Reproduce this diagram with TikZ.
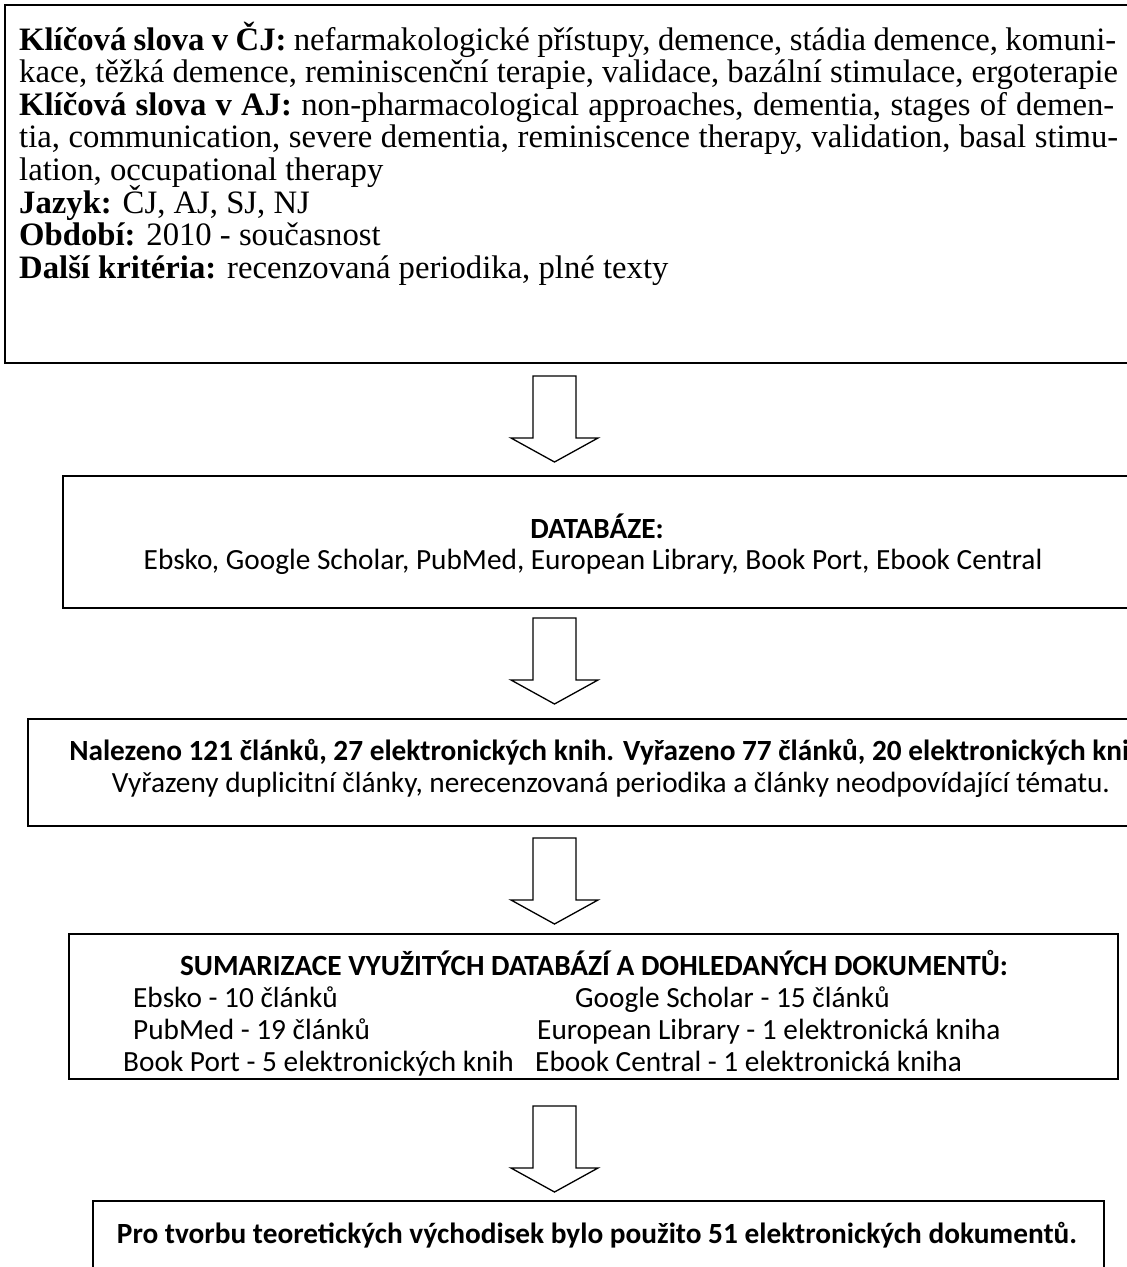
\documentclass[tikz,border=0pt]{standalone}
\usepackage{fontspec}
\setmainfont{Liberation Serif}
\newfontfamily\calfont{Carlito}
\begin{document}
\begin{tikzpicture}[x=1pt,y=-1pt,
  box/.style={draw=black, line width=2pt, anchor=north west, inner sep=0pt, fill=none},
  blk/.style={draw=black, line width=1.3pt, fill=white, line join=miter},
  tl/.style={anchor=base west, inner sep=0pt, font=\fontsize{32.7}{38}\selectfont},
  cl/.style={anchor=base, inner sep=0pt, font=\calfont\fontsize{29.3}{35}\selectfont},
  cw/.style={anchor=base west, inner sep=0pt, font=\calfont\fontsize{29.3}{35}\selectfont},
  darrow/.pic={\draw[blk] (-21.5,0) -- (21.5,0) -- (21.5,62) -- (43.5,62) -- (0,86) -- (-43.5,62) -- (-21.5,62) -- cycle;}
]
\path[use as bounding box] (0,0) rectangle (1127,1267);
\clip (0,0) rectangle (1127,1267);
\fill[white] (0,0) rectangle (1127,1267);

% box 1
\node[box, minimum width=1140pt, minimum height=358pt] (b1) at (4,4) {};
\node[tl] (l1) at (19,50) {\makebox[1097pt][s]{\textbf{Klíčová slova v ČJ:} nefarmakologické přístupy, demence, stádia demence, komuni-}};
\node[tl] (l2) at (19,82.6) {kace, těžká demence, reminiscenční terapie, validace, bazální stimulace, ergoterapie};
\node[tl] (l3) at (19,115.2) {\makebox[1095pt][s]{\textbf{Klíčová slova v AJ:} non-pharmacological approaches, dementia, stages of demen-}};
\node[tl] (l4) at (19,147.8) {\makebox[1099pt][s]{tia, communication, severe dementia, reminiscence therapy, validation, basal stimu-}};
\node[tl] (l5) at (19,180.4) {lation, occupational therapy};
\node[tl] (l6) at (19,213) {\textbf{Jazyk:} ČJ, AJ, SJ, NJ};
\node[tl] (l7) at (19,245.6) {\textbf{Období:} 2010 - současnost};
\node[tl] (l8) at (19,278.2) {\textbf{Další kritéria:} recenzovaná periodika, plné texty};

\pic (a1) at (554.5,376) {darrow};

% box 2
\node[box, minimum width=1080pt, minimum height=132pt] (b2) at (62,475) {};
\node[cl] (t2a) at (597,538) {\textbf{DATABÁZE:}};
\node[cl] (t2b) at (593,569) {Ebsko, Google Scholar, PubMed, European Library, Book Port, Ebook Central};

\pic (a2) at (554.5,618) {darrow};

% box 3
\node[box, minimum width=1180pt, minimum height=107pt] (b3) at (27,718) {};
\node[cl] (t3a) at (611,760) {\textbf{Nalezeno 121 článků, 27 elektronických knih. Vyřazeno 77 článků, 20 elektronických knih.}};
\node[cl] (t3b) at (611,792) {Vyřazeny duplicitní články, nerecenzovaná periodika a články neodpovídající tématu.};

\pic (a3) at (554.5,838) {darrow};

% box 4
\node[box, minimum width=1049pt, minimum height=145pt] (b4) at (68,933) {};
\node[cl] (t4h) at (594,975) {\textbf{SUMARIZACE VYUŽITÝCH DATABÁZÍ A DOHLEDANÝCH DOKUMENTŮ:}};
\node[cw] (t4a) at (133,1007) {Ebsko - 10 článků};
\node[cw] (t4b) at (575,1007) {Google Scholar - 15 článků};
\node[cw] (t4c) at (133,1039) {PubMed - 19 článků};
\node[cw] (t4d) at (537,1039) {European Library - 1 elektronická kniha};
\node[cw] (t4e) at (123,1071) {Book Port - 5 elektronických knih};
\node[cw] (t4f) at (535,1071) {Ebook Central - 1 elektronická kniha};

\pic (a4) at (554.5,1106) {darrow};

% box 5
\node[box, minimum width=1011pt, minimum height=120pt] (b5) at (92,1200) {};
\node[cl] (t5) at (597,1243) {\textbf{Pro tvorbu teoretických východisek bylo použito 51 elektronických dokumentů.}};
\end{tikzpicture}
\end{document}
